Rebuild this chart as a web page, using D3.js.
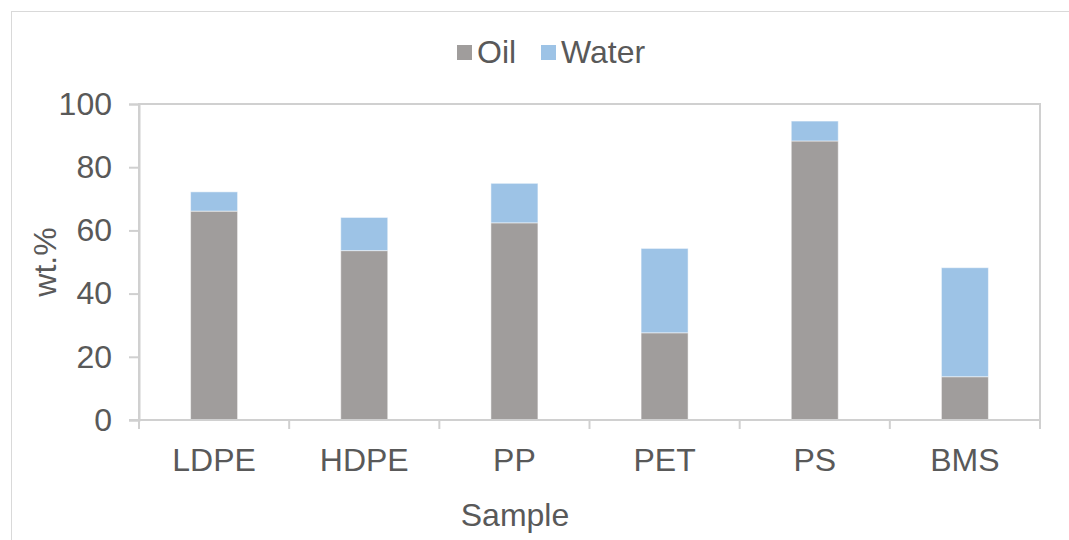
<!DOCTYPE html>
<html>
<head>
<meta charset="utf-8">
<script src="https://cdn.jsdelivr.net/npm/d3@7/dist/d3.min.js"></script>
<style>
  html, body { margin: 0; padding: 0; background: #fff; }
  text { font-family: "Liberation Sans", Arial, sans-serif; fill: #595959; }
</style>
</head>
<body>
<svg id="chart" width="1069" height="540"></svg>
<script>
// Product yields (wt.%) per plastic sample
const samples = ["LDPE", "HDPE", "PP", "PET", "PS", "BMS"];
const oil   = [66.1, 53.6, 62.4, 27.6, 88.3, 13.7];
const water = [6.1, 10.5, 12.5, 26.7, 6.3, 34.5];
const yTicks = [0, 20, 40, 60, 80, 100];
const seriesNames = ["Oil", "Water"];
const seriesColors = ["#a09d9c", "#9dc3e6"];

const svg = d3.select("#chart");
const W = 1069, H = 540;
const margin = { left: 139, right: 29, top: 104, bottom: 120 };
const FS = "32px";

// outer chart frame
svg.append("rect")
  .attr("x", 11.5).attr("y", 11.5)
  .attr("width", W + 10).attr("height", H + 10)
  .attr("fill", "none").attr("stroke", "#d9d9d9").attr("stroke-width", 1);

const x = d3.scaleBand().domain(samples)
  .range([margin.left, W - margin.right])
  .paddingInner(0.687).paddingOuter(0.3435);
const y = d3.scaleLinear().domain([0, 100]).range([H - margin.bottom, margin.top]);

const rows = samples.map((s, i) => ({ sample: s, Oil: oil[i], Water: water[i] }));
const stacked = d3.stack().keys(seriesNames)(rows);

// plot-area border
svg.append("rect")
  .attr("x", margin.left).attr("y", margin.top)
  .attr("width", W - margin.right - margin.left)
  .attr("height", H - margin.bottom - margin.top)
  .attr("fill", "none").attr("stroke", "#d0d0d0").attr("stroke-width", 2);

// stacked bars
svg.append("g").selectAll("g").data(stacked).join("g")
  .attr("fill", (d, i) => seriesColors[i])
  .selectAll("rect").data(d => d).join("rect")
  .attr("x", d => x(d.data.sample))
  .attr("y", d => y(d[1]))
  .attr("width", x.bandwidth())
  .attr("height", d => y(d[0]) - y(d[1]))
  .attr("stroke", "#ffffff").attr("stroke-opacity", 0.5).attr("stroke-width", 1);

// y axis
const yAxis = svg.append("g")
  .attr("transform", `translate(${margin.left},0)`)
  .call(d3.axisLeft(y).tickValues(yTicks).tickSize(10).tickPadding(17));
yAxis.select(".domain").attr("stroke", "#d0d0d0").attr("stroke-width", 2);
yAxis.selectAll(".tick line").attr("stroke", "#d0d0d0").attr("stroke-width", 2);
yAxis.selectAll(".tick text").style("font-size", FS).attr("fill", "#595959")
  .style("font-family", "'Liberation Sans', Arial, sans-serif");

// x axis: ticks sit between categories
const xAxis = svg.append("g")
  .attr("transform", `translate(0,${H - margin.bottom})`);
xAxis.append("line")
  .attr("x1", margin.left - 10).attr("x2", W - margin.right)
  .attr("stroke", "#d0d0d0").attr("stroke-width", 2);
const step = x.step();
const bounds = d3.range(samples.length + 1).map(i => margin.left + i * step);
xAxis.selectAll("line.tk").data(bounds).join("line").attr("class", "tk")
  .attr("x1", d => d).attr("x2", d => d).attr("y1", 0).attr("y2", 9)
  .attr("stroke", "#d0d0d0").attr("stroke-width", 2);
xAxis.selectAll("text.lbl").data(samples).join("text").attr("class", "lbl")
  .attr("x", d => x(d) + x.bandwidth() / 2).attr("y", 51)
  .attr("text-anchor", "middle").style("font-size", FS)
  .text(d => d);

// axis titles
svg.append("text").attr("x", 515).attr("y", 526)
  .attr("text-anchor", "middle").style("font-size", FS).text("Sample");
svg.append("text")
  .attr("transform", "translate(56,262) rotate(-90)")
  .attr("text-anchor", "middle").style("font-size", FS).text("wt.%");

// legend
const legend = svg.append("g").attr("transform", "translate(457,0)");
const legX = [0, 84];
seriesNames.forEach((n, i) => {
  legend.append("rect").attr("x", legX[i]).attr("y", 45)
    .attr("width", 15).attr("height", 15).attr("fill", seriesColors[i]);
  legend.append("text").attr("x", legX[i] + 20).attr("y", 63)
    .style("font-size", FS).text(n);
});
</script>
</body>
</html>
